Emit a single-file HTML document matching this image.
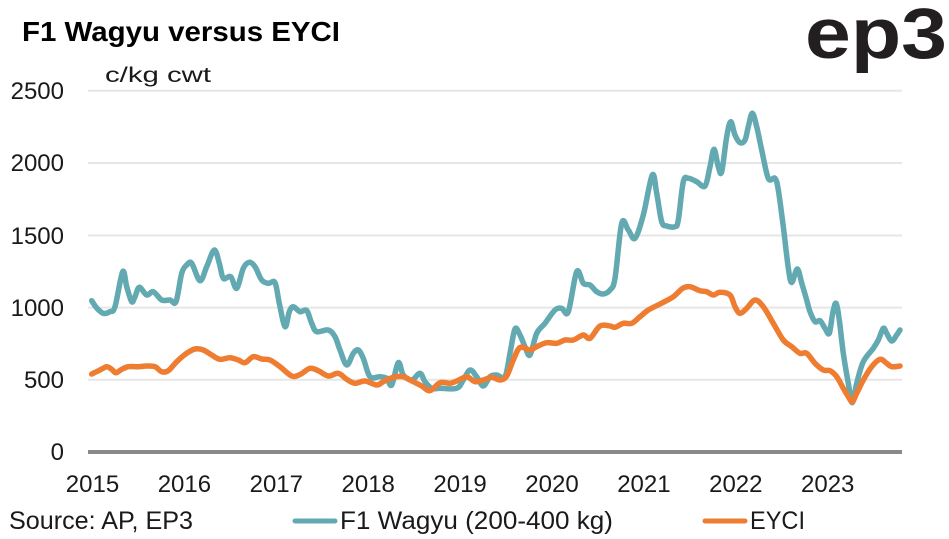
<!DOCTYPE html>
<html>
<head>
<meta charset="utf-8">
<style>
  html,body{margin:0;padding:0;background:#fff;}
  svg{display:block;}
  text{font-family:"Liberation Sans",sans-serif;fill:#1a1a1a;}
</style>
</head>
<body>
<svg id="chart" width="949" height="539" viewBox="0 0 949 539" xmlns="http://www.w3.org/2000/svg">
  <rect width="949" height="539" fill="#fff"/>
  <!-- title -->
  <text x="22" y="41" font-size="28" font-weight="bold" textLength="318" lengthAdjust="spacingAndGlyphs" style="fill:#000">F1 Wagyu versus EYCI</text>
  <!-- logo -->
  <text x="805" y="58" font-size="71" font-weight="bold" textLength="142" lengthAdjust="spacingAndGlyphs" style="fill:#231f20">ep3</text>
  <!-- unit -->
  <text x="105" y="82" font-size="21" textLength="106" lengthAdjust="spacingAndGlyphs">c/kg cwt</text>

  <!-- gridlines -->
  <g stroke="#e6e6e6" stroke-width="2">
    <line x1="88" y1="90.7" x2="902" y2="90.7"/>
    <line x1="88" y1="163" x2="902" y2="163"/>
    <line x1="88" y1="235.5" x2="902" y2="235.5"/>
    <line x1="88" y1="307.6" x2="902" y2="307.6"/>
    <line x1="88" y1="379.7" x2="902" y2="379.7"/>
  </g>
  <line x1="88" y1="452" x2="902" y2="452" stroke="#898989" stroke-width="4"/>

  <!-- y labels -->
  <g font-size="24" text-anchor="end">
    <text x="64" y="99">2500</text>
    <text x="64" y="171">2000</text>
    <text x="64" y="244">1500</text>
    <text x="64" y="316">1000</text>
    <text x="64" y="388">500</text>
    <text x="64" y="460">0</text>
  </g>
  <!-- x labels -->
  <g font-size="24" text-anchor="middle">
    <text x="92.5" y="492">2015</text>
    <text x="184.4" y="492">2016</text>
    <text x="276.3" y="492">2017</text>
    <text x="368.2" y="492">2018</text>
    <text x="460.1" y="492">2019</text>
    <text x="552" y="492">2020</text>
    <text x="643.9" y="492">2021</text>
    <text x="735.8" y="492">2022</text>
    <text x="827.7" y="492">2023</text>
  </g>

  <!-- teal series -->
  <polyline class="series" fill="none" stroke="#62a9b1" stroke-width="5.5" stroke-linejoin="round" stroke-linecap="round"
    points="91.7,300.7 96.7,308 103.3,313.3 110,311.7 115,306.7 122.7,271.7 126.7,286.7 131.7,301.7 135,296.7 139.3,287.3 146.7,295 153.3,291.7 161.7,300 170,300 176,301.7 181.7,273.3 186.7,265 191.7,263.3 200,280.7 206.7,266.7 214.3,250 219.3,263.3 223.3,278.3 230.7,276.7 236.7,288.3 243.3,268.3 249.3,262.3 255,266.7 261.7,280 268.3,283.3 275,282.7 279.3,303.3 285,326.7 289.3,311.7 293.3,306.7 300,311.7 306.7,310.5 311.7,323.3 316.7,331.7 328.3,330 335,336.7 340,350 346.7,365 353.3,353.3 358.3,350 363.3,358.3 370,376.7 380,376.7 386.7,378.3 391.7,385 398.3,362.7 403.3,375 411.7,380 420,373.3 425,381.7 431.7,388.3 440,388.3 456.7,388.3 463.3,380 470,370 476.7,376.7 483.3,386 490,376.7 496.7,375 505,376.7 510,353.3 515,329 520,335 525,346.7 530,355 536.7,333.3 545,323.3 555,310 561.7,308.3 568.3,311.7 576.7,271.7 583.3,283.3 590,285 596.7,291.7 603.3,294 610,290 615,278.3 621.7,223.3 628.3,230 635,238.3 643.3,215 652.3,175 656.7,193.3 661.7,221.7 666.7,226 675,226.7 678.3,220 683.3,181.7 688.3,178.3 696.7,181.7 705,186 710,166.7 714,149.3 718.3,166.7 721.7,171.7 726.7,136.7 730.7,121.7 735,135 740,142.7 745,140 748.3,126.7 752.3,113.3 756.7,126.7 761.7,150 768.3,178.3 775,178.3 778.3,190 783.3,226.7 788.3,268 791.7,282.5 797.3,269 802,284 806.7,300 810,311.7 815,321.7 820,320.7 825,328.3 829.3,333.3 832.7,313.3 836,303.3 839.3,320 843.3,353.3 848.3,383.3 852.3,402.7 856.7,383.3 863.3,361.7 873.3,348.3 878.3,340 883.3,328.3 886.7,333.3 891.7,341 896.7,335 900,330"/>

  <!-- orange series -->
  <polyline class="series" fill="none" stroke="#ee7d31" stroke-width="5.5" stroke-linejoin="round" stroke-linecap="round"
    points="91.7,374 100,370 106.7,366.7 111.7,369.3 116,372.7 121.7,369.3 128.3,366.7 138.3,366.7 146.7,366 155,366.7 161.7,371.7 168.3,370.7 176.7,361.7 186.7,353.3 195,349 203.3,350 211.7,355 220,359.3 230,357.7 238.3,360 245,362.7 253.3,356.7 261.7,359 270,360 280,366.7 291.7,376 300,374.5 310,368.3 318.3,370.7 328.3,376 338.3,373.3 346.7,379.3 355,383.3 365,381 376.7,385 383.3,381.7 393.3,377.3 403.3,376.7 413.3,381.7 421.7,386 430,390.7 440,382.7 450,383.3 456.7,381 466.7,376.7 475,381.7 483.3,380 491.7,377.3 500,380 506.7,376 513.3,360 520,347.5 530,350 536.7,346.7 546.7,342.7 556.7,343.3 565,340 573.3,340 583.3,335 590,338.3 600,326 610,326 615,327.3 623.3,323.3 631.7,323.3 640,316.7 648.3,310 660,304 673.3,296.7 682.7,288.3 690,286.7 700,290.7 706.7,291.7 713.3,295 720,292.2 730,295 735,306.7 740,313.3 746.7,308.3 755,300 763.3,306.7 773.3,323.3 783.3,340 791.7,346.7 800,353.3 806.7,353.3 815,363.3 823.3,370 830,370.7 836.7,376.7 843.3,388.3 848.3,396.7 852.3,401.7 856.7,393.3 863.3,380 871.7,366.7 880,359.3 886.7,363.3 891.7,366.7 900,366"/>

  <!-- legend -->
  <text x="9" y="529" font-size="25" textLength="184" lengthAdjust="spacingAndGlyphs">Source: AP, EP3</text>
  <line x1="295" y1="521" x2="335" y2="521" stroke="#62a9b1" stroke-width="5" stroke-linecap="round"/>
  <text x="340" y="529" font-size="25" textLength="273" lengthAdjust="spacingAndGlyphs">F1 Wagyu (200-400 kg)</text>
  <line x1="705" y1="521" x2="745" y2="521" stroke="#ee7d31" stroke-width="5" stroke-linecap="round"/>
  <text x="750" y="529" font-size="25" textLength="55" lengthAdjust="spacingAndGlyphs">EYCI</text>
</svg>
<script>
(function(){
  try{
    var NS="http://www.w3.org/2000/svg";
    var lines=document.querySelectorAll("polyline.series");
    for(var k=0;k<lines.length;k++){
      var pl=lines[k];
      var raw=pl.getAttribute("points").trim().split(/\s+/);
      var p=[];
      for(var i=0;i<raw.length;i++){var a=raw[i].split(",");p.push([+a[0],+a[1]]);}
      var d="M"+p[0][0]+","+p[0][1];
      var t=0.5;
      for(var i=0;i<p.length-1;i++){
        var p0=p[i>0?i-1:0],p1=p[i],p2=p[i+1],p3=p[i+2<p.length?i+2:i+1];
        var c1x=p1[0]+(p2[0]-p0[0])*t/3,c1y=p1[1]+(p2[1]-p0[1])*t/3;
        var c2x=p2[0]-(p3[0]-p1[0])*t/3,c2y=p2[1]-(p3[1]-p1[1])*t/3;
        d+=" C"+c1x.toFixed(2)+","+c1y.toFixed(2)+" "+c2x.toFixed(2)+","+c2y.toFixed(2)+" "+p2[0]+","+p2[1];
      }
      var path=document.createElementNS(NS,"path");
      path.setAttribute("d",d);
      path.setAttribute("fill","none");
      path.setAttribute("stroke",pl.getAttribute("stroke"));
      path.setAttribute("stroke-width",pl.getAttribute("stroke-width"));
      path.setAttribute("stroke-linejoin","round");
      path.setAttribute("stroke-linecap","round");
      pl.parentNode.replaceChild(path,pl);
    }
  }catch(e){}
})();
</script>
</body>
</html>
